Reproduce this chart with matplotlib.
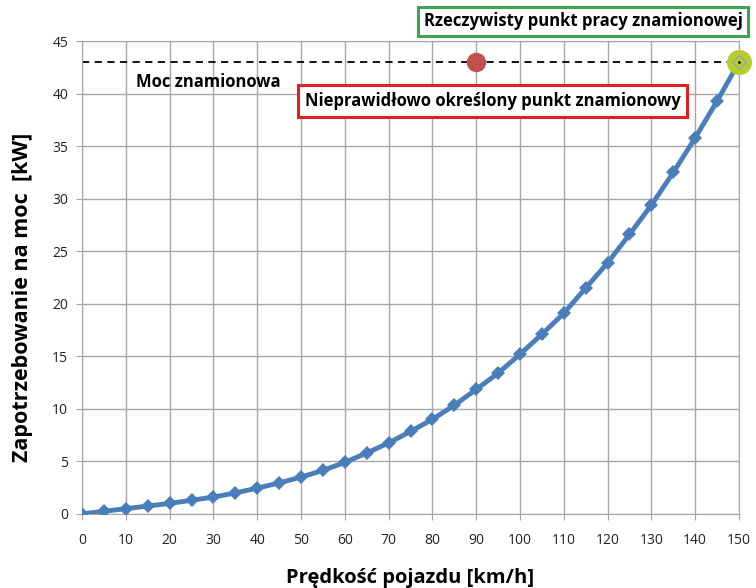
#!/usr/bin/env python3
"""Power demand vs vehicle speed, with rated-power line and two rated points."""

import matplotlib

matplotlib.use("Agg")
import matplotlib.pyplot as plt

SPEED = [0, 5, 10, 15, 20, 25, 30, 35, 40, 45, 50, 55, 60, 65, 70, 75,
         80, 85, 90, 95, 100, 105, 110, 115, 120, 125, 130, 135, 140, 145, 150]
POWER = [0.0, 0.25, 0.5, 0.75, 1.0, 1.3, 1.6, 2.0, 2.45, 2.95, 3.5, 4.15,
         4.9, 5.8, 6.75, 7.85, 9.0, 10.35, 11.85, 13.4, 15.2, 17.1, 19.1,
         21.5, 23.9, 26.6, 29.4, 32.5, 35.8, 39.3, 43.0]
RATED_POWER = 43.0
WRONG_POINT = (90, 43.0)
REAL_POINT = (150, 43.0)
X_TICKS = list(range(0, 151, 10))
Y_TICKS = list(range(0, 46, 5))

FONT = ["Open Sans", "DejaVu Sans"]
plt.rcParams["font.family"] = FONT

fig = plt.figure(figsize=(7.56, 5.88), dpi=100)
ax = fig.add_axes([0.1085, 0.126, 0.869, 0.804])

ax.plot(SPEED, POWER, color="#4a7ebb", linewidth=3.5, marker="D",
        markersize=7, markeredgewidth=0, zorder=3)
ax.axhline(RATED_POWER, color="black", linestyle=(0, (4, 3)),
           linewidth=1.3, zorder=2)
ax.plot(*WRONG_POINT, "o", color="#c0504d", markersize=13, zorder=4)
ax.plot(*REAL_POINT, "o", color="#b8cc2a", markersize=17, zorder=4,
        clip_on=False)
ax.plot(*REAL_POINT, "D", markerfacecolor="none", markeredgecolor="#8fa0c8",
        markersize=7, markeredgewidth=0.8, zorder=5, clip_on=False)
ax.plot(*REAL_POINT, ".", color="black", markersize=2, zorder=6,
        clip_on=False)

ax.set_xlim(0, 150)
ax.set_ylim(0, 45)
ax.set_xticks(X_TICKS)
ax.set_yticks(Y_TICKS)
ax.grid(True, color="#a6a6a6", linewidth=1.0)
ax.set_axisbelow(True)
for sp in ax.spines.values():
    sp.set_color("#a6a6a6")
ax.tick_params(colors="#a6a6a6", labelcolor="#222222", labelsize=10,
               length=4, pad=10)
ax.tick_params(axis="y", pad=6)

ax.set_xlabel("Prędkość pojazdu [km/h]", fontsize=14.5, fontweight="bold",
              labelpad=14)
ax.set_ylabel("Zapotrzebowanie na moc  [kW]", fontsize=15.5,
              fontweight="bold")
ax.yaxis.set_label_coords(-0.075, 0.459)

ax.text(28.8, 41.1, "Moc znamionowa", fontsize=12, fontweight="bold",
        ha="center", va="center")
ax.text(93.8, 39.3, "Nieprawidłowo określony punkt znamionowy", fontsize=12,
        fontweight="bold", ha="center", va="center",
        bbox=dict(boxstyle="square,pad=0.4", facecolor="white",
                  edgecolor="#e02020", linewidth=2.2))
fig.text(583 / 756, 1 - 21.5 / 588, "Rzeczywisty punkt pracy znamionowej",
         fontsize=12, fontweight="bold", ha="center", va="center",
         bbox=dict(boxstyle="square,pad=0.35", facecolor="white",
                   edgecolor="#3aa84a", linewidth=2.2))

fig.savefig("out.png", dpi=100)
